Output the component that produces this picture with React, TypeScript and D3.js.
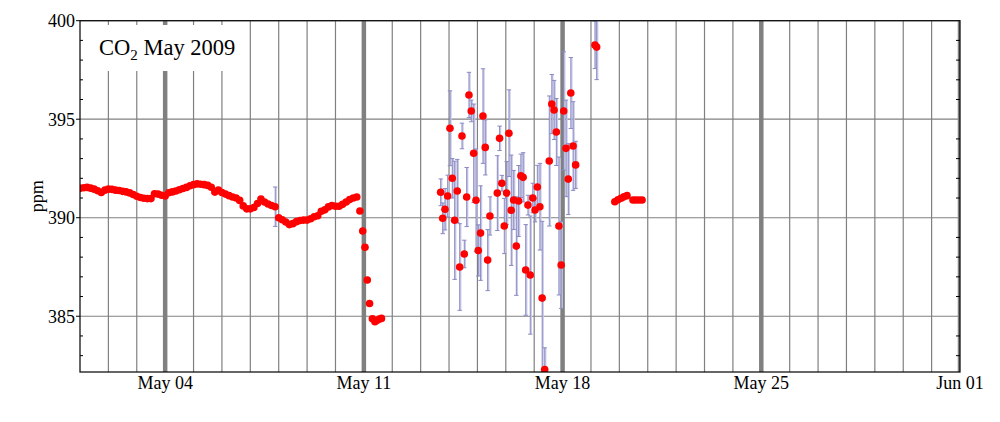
import React from "react";
import * as d3 from "d3";

// days since 2009-05-01 00:00 UTC, values in ppm
const contStart = 0;
const contStep = 0.125;
const contPpm = [
  391.49, 391.52, 391.54, 391.5, 391.45, 391.37, 391.28, 391.4, 391.45, 391.44,
  391.4, 391.38, 391.34, 391.31, 391.26, 391.18, 391.09, 391.03, 390.99, 390.97,
  390.97, 391.22, 391.2, 391.14, 391.1, 391.27, 391.31, 391.36, 391.42, 391.48,
  391.54, 391.62, 391.68, 391.72, 391.7, 391.68, 391.64, 391.55, 391.3, 391.4,
  391.28, 391.2, 391.12, 391.05, 391.0, 390.88, 390.6, 390.45, 390.45, 390.52,
  390.72, 390.95, 390.8, 390.7, 390.62, 390.56, 390.0, 389.9, 389.78, 389.65,
  389.7, 389.8, 389.86, 389.88, 389.88, 389.95, 390.05, 390.1, 390.33, 390.4,
  390.55, 390.62, 390.58, 390.58, 390.68, 390.8, 390.92, 391.0, 391.05,
];
const contErrDay = [6.875];
const contErrPpm = [390.56];
const contErr = [1.0];

const dropDays = [9.86, 9.96, 10.04, 10.12, 10.2, 10.3, 10.39, 10.47, 10.55, 10.62];
const dropPpm = [390.34, 389.33, 388.5, 386.84, 385.65, 384.87, 384.72, 384.8, 384.86, 384.89];

const scatterDays = [
  12.705, 12.776, 12.857, 12.952, 13.033, 13.114, 13.198, 13.29, 13.375, 13.456,
  13.537, 13.621, 13.702, 13.783, 13.868, 13.95, 14.03, 14.11, 14.195, 14.276,
  14.36, 14.44, 14.7, 14.78, 14.86, 14.946, 15.03, 15.11, 15.19, 15.276,
  15.37, 15.45, 15.53, 15.61, 15.7, 15.78, 15.86, 15.95, 16.03, 16.11,
  16.2, 16.28, 16.37, 16.53, 16.62, 16.7, 16.78, 16.87, 16.95, 17.04,
  17.12, 17.2, 17.29, 17.37, 17.46, 18.14, 18.2,
];
const scatterPpm = [
  391.29, 389.97, 390.43, 391.1, 394.54, 392.0, 389.87, 391.36, 387.5, 394.15,
  388.16, 391.05, 396.23, 395.42, 393.27, 390.89, 388.34, 389.22, 395.16, 393.57,
  387.85, 390.09, 391.25, 394.03, 391.75, 389.58, 391.25, 394.29, 390.38, 390.9,
  388.56, 390.85, 392.13, 392.05, 387.35, 390.64, 387.09, 391.0, 390.39, 391.56,
  390.56, 385.92, 382.3, 392.88, 395.77, 395.47, 394.35, 389.58, 387.6, 395.42,
  393.52, 391.96, 396.33, 393.64, 392.68, 398.77, 398.66,
];
const scatterErr = [
  0.68, 0.78, 1.05, 1.06, 1.9, 1.0, 3.0, 1.6, 2.2, 0.65,
  0.7, 1.5, 1.15, 0.55, 2.5, 2.6, 1.3, 2.4, 2.4, 1.4,
  1.55, 0.97, 1.9, 0.62, 0.4, 1.4, 1.6, 2.2, 2.8, 1.5,
  2.5, 1.8, 1.1, 1.25, 2.3, 0.5, 3.0, 0.75, 0.6, 1.1,
  2.2, 3.9, 1.1, 3.3, 1.5, 1.5, 1.7, 3.5, 2.2, 3.0,
  2.45, 1.8, 1.8, 2.25, 1.2, 1.2, 1.65,
];

const lateDays = [18.84, 18.95, 19.06, 19.16, 19.27, 19.48, 19.58, 19.69, 19.8];
const latePpm = [390.81, 390.91, 390.99, 391.06, 391.12, 390.9, 390.9, 390.9, 390.9];

const yTicks = [385, 390, 395, 400];
const yMinor = [383, 384, 386, 387, 388, 389, 391, 392, 393, 394, 396, 397, 398, 399];
const yDomain = [382.17, 400];

const start = new Date(Date.UTC(2009, 4, 1));
const end = new Date(Date.UTC(2009, 5, 1));
const dayToDate = (d: number) => new Date(start.getTime() + d * 864e5);

const font = "'Liberation Serif', 'Times New Roman', serif";

export default function App() {
  const left = 80;
  const right = 960;
  const top = 20.7;
  const bottom = 372;
  const x = d3.scaleUtc().domain([start, end]).range([left, right]);
  const y = d3.scaleLinear().domain(yDomain).range([bottom, top]);

  const days = d3.utcDay.range(d3.utcDay.offset(start, 1), d3.utcDay.offset(end, 1));
  const mondays = d3.utcMonday.range(start, d3.utcDay.offset(end, 1));
  const isMonday = (d: Date) => d.getUTCDay() === 1;
  const fmt = d3.utcFormat("%b %d");

  const cont = contPpm.map((v, i) => ({ d: contStart + i * contStep, v }));
  const drop = dropDays.map((d, i) => ({ d, v: dropPpm[i] }));
  const scatter = scatterDays.map((d, i) => ({ d, v: scatterPpm[i], e: scatterErr[i] }));
  const late = lateDays.map((d, i) => ({ d, v: latePpm[i] }));
  const errs = [
    ...contErrDay.map((d, i) => ({ d, v: contErrPpm[i], e: contErr[i] })),
    ...scatter,
  ];
  const dots = [...cont, ...drop, ...scatter, ...late];

  return (
    <svg
      width={1000}
      height={422}
      style={{ position: "absolute", left: 0, top: 0, background: "#fff" }}
      fontFamily={font}
    >
      <defs>
        <clipPath id="plot">
          <rect x={left} y={top} width={right - left} height={bottom - top} />
        </clipPath>
      </defs>
      <g clipPath="url(#plot)">
        {days
          .filter((d) => !isMonday(d))
          .map((d, i) => (
            <line key={"v" + i} x1={x(d)} x2={x(d)} y1={top} y2={bottom} stroke="#808080" strokeWidth={1.2} />
          ))}
        {yTicks.map((t) => (
          <line key={"h" + t} x1={left} x2={right} y1={y(t)} y2={y(t)} stroke="#808080" strokeWidth={1.2} />
        ))}
        {mondays.map((d, i) => (
          <line key={"w" + i} x1={x(d)} x2={x(d)} y1={top} y2={bottom} stroke="#808080" strokeWidth={4.5} />
        ))}
        <rect x={left + 1} y={25} width={164} height={46} fill="#fff" />
        {errs.map((p, i) => {
          const cx = x(dayToDate(p.d));
          const y1 = y(p.v + p.e);
          const y2 = y(p.v - p.e);
          return (
            <g key={"e" + i}>
              <line x1={cx + 0.8} x2={cx + 0.8} y1={y1} y2={y2} stroke="#c8c8e8" strokeWidth={1.8} />
              <line x1={cx} x2={cx} y1={y1} y2={y2} stroke="#7a7ab8" strokeWidth={0.8} />
              <line x1={cx - 2.2} x2={cx + 2.2} y1={y1} y2={y1} stroke="#8a8ac4" strokeWidth={1} />
              <line x1={cx - 2.2} x2={cx + 2.2} y1={y2} y2={y2} stroke="#8a8ac4" strokeWidth={1} />
            </g>
          );
        })}
        {dots.map((p, i) => (
          <circle key={"c" + i} cx={x(dayToDate(p.d))} cy={y(p.v)} r={3.8} fill="#ff0000" />
        ))}
      </g>
      <rect x={left} y={top} width={right - left} height={bottom - top} fill="none" stroke="#000" strokeWidth={1.2} />
      {yTicks.map((t) => (
        <g key={"yt" + t}>
          <line x1={left - 4} x2={left} y1={y(t)} y2={y(t)} stroke="#000" />
          <text x={left - 5} y={y(t)} dy="0.35em" textAnchor="end" fontSize={18}>
            {t}
          </text>
        </g>
      ))}
      {yMinor.map((t) => (
        <g key={"ym" + t}>
          <line x1={left} x2={left + 3} y1={y(t)} y2={y(t)} stroke="#000" />
          <line x1={right - 4} x2={right} y1={y(t)} y2={y(t)} stroke="#000" />
        </g>
      ))}
      {mondays.map((d, i) => (
        <text key={"xl" + i} x={x(d)} y={389} textAnchor="middle" fontSize={18}>
          {fmt(d)}
        </text>
      ))}
      <text transform={`translate(43,${(top + bottom) / 2}) rotate(-90)`} textAnchor="middle" fontSize={18}>
        ppm
      </text>
      <text x={99} y={55} fontSize={22.5}>
        CO
        <tspan fontSize={15} dy={5}>2</tspan>
        <tspan dy={-5}> May 2009</tspan>
      </text>
    </svg>
  );
}
